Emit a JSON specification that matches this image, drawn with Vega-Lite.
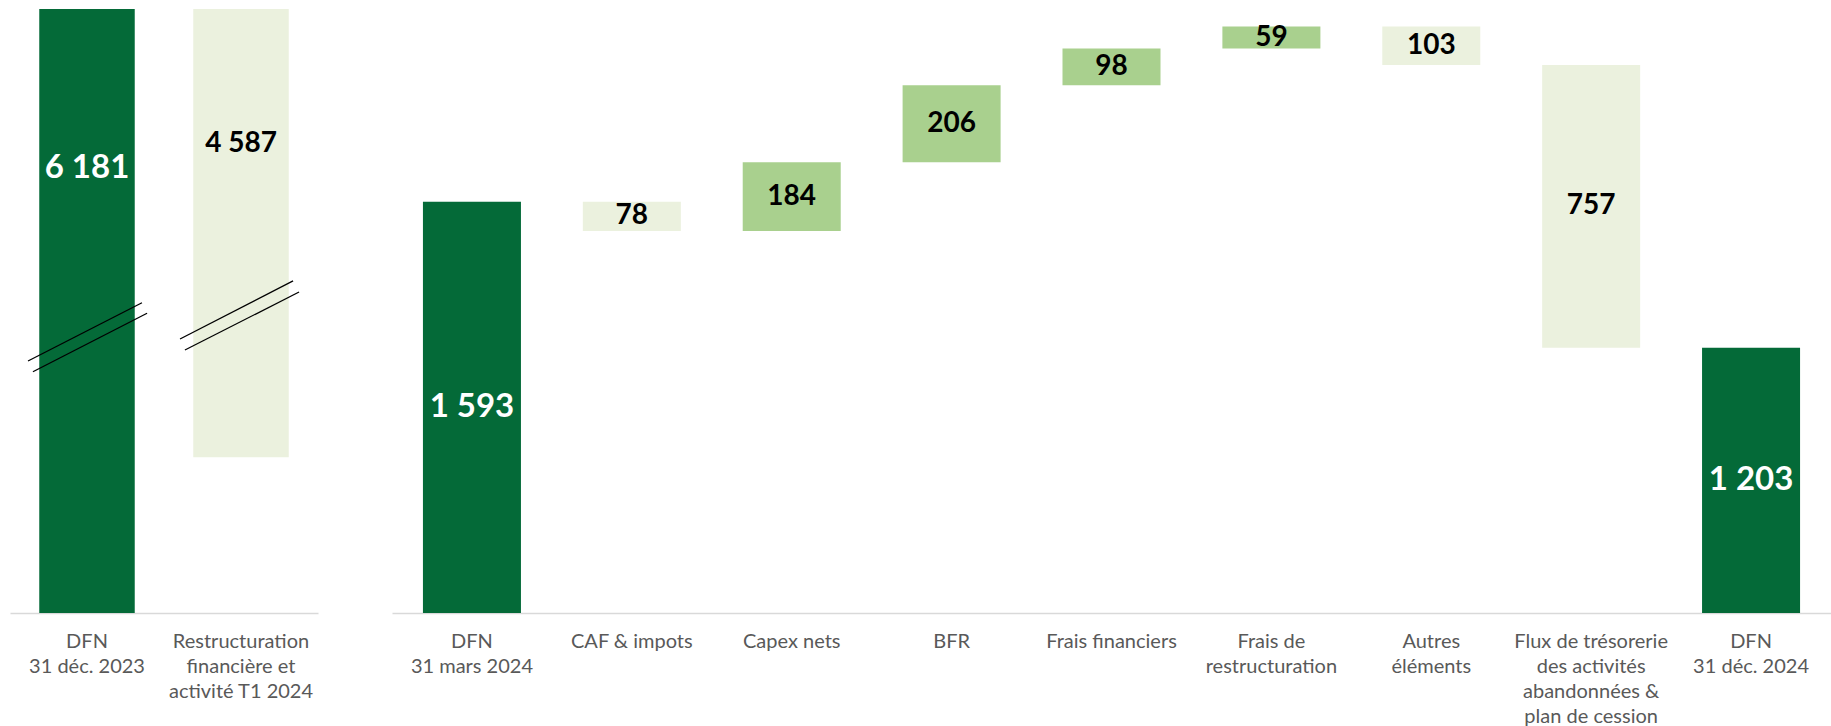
{
  "$schema": "https://vega.github.io/schema/vega-lite/v6.json",
  "padding": {"left": 10, "top": 9, "right": 0, "bottom": 0},
  "bounds": "flush",
  "spacing": 74,
  "background": "white",
  "config": {
    "view": {"stroke": null},
    "axis": {
      "domainColor": "#D9D9D9",
      "domainWidth": 1.5,
      "ticks": false,
      "grid": false,
      "labelAngle": 0,
      "labelFont": "Lato",
      "labelFontSize": 20,
      "labelColor": "#595959",
      "labelLineHeight": 25,
      "labelBaseline": "alphabetic",
      "labelPadding": 34,
      "title": null
    },
    "text": {"font": "Lato", "fontWeight": "bold", "baseline": "middle", "align": "center"}
  },
  "datasets": {
    "left": [
      {"cat": "DFN\n31 déc. 2023", "start": 0, "end": 6181, "label": "6 181", "kind": "total"},
      {"cat": "Restructuration\nfinancière et\nactivité T1 2024", "start": 1594, "end": 6181, "label": "4 587", "kind": "decrease"}
    ],
    "breaks": [
      {"bx": 0.117, "by": 2579, "bx2": 0.857, "by2": 3175},
      {"bx": 0.149, "by": 2469, "bx2": 0.890, "by2": 3067},
      {"bx": 1.104, "by": 2804, "bx2": 1.838, "by2": 3398},
      {"bx": 1.136, "by": 2691, "bx2": 1.877, "by2": 3285}
    ],
    "right": [
      {"cat": "DFN\n31 mars 2024", "start": 0, "end": 1593, "label": "1 593", "kind": "total"},
      {"cat": "CAF & impots", "start": 1593, "end": 1515, "label": "78", "kind": "decrease"},
      {"cat": "Capex nets", "start": 1515, "end": 1699, "label": "184", "kind": "increase"},
      {"cat": "BFR", "start": 1699, "end": 1905, "label": "206", "kind": "increase"},
      {"cat": "Frais financiers", "start": 1905, "end": 2003, "label": "98", "kind": "increase"},
      {"cat": "Frais de\nrestructuration", "start": 2003, "end": 2062, "label": "59", "kind": "increase"},
      {"cat": "Autres\néléments", "start": 2062, "end": 1959, "label": "103", "kind": "decrease"},
      {"cat": "Flux de trésorerie\ndes activités\nabandonnées &\nplan de cession", "start": 1959, "end": 1203, "label": "757", "kind": "decrease"},
      {"cat": "DFN\n31 déc. 2024", "start": 0, "end": 1203, "label": "1 203", "kind": "total"}
    ]
  },
  "hconcat": [
    {
      "width": 308,
      "height": 604,
      "layer": [
        {
          "data": {"name": "left"},
          "layer": [
            {
              "mark": {"type": "bar", "clip": true},
              "encoding": {
                "x": {"field": "cat", "type": "nominal", "sort": null,
                      "scale": {"paddingInner": 0.38, "paddingOuter": 0.19},
                      "axis": {"labelExpr": "split(datum.value, '\\n')"}},
                "y": {"field": "start", "type": "quantitative", "scale": {"domain": [0, 6181], "nice": false, "zero": false}, "axis": null},
                "y2": {"field": "end"},
                "color": {"field": "kind", "type": "nominal", "legend": null,
                          "scale": {"domain": ["total", "increase", "decrease"], "range": ["#046A38", "#A9D08E", "#EBF1DE"]}}
              }
            },
            {
              "transform": [{"filter": "datum.kind === 'total'"}],
              "mark": {"type": "text", "fontSize": 33, "color": "white"},
              "encoding": {
                "x": {"field": "cat", "type": "nominal", "sort": null},
                "y": {"datum": 4555, "type": "quantitative"},
                "text": {"field": "label"}
              }
            },
            {
              "transform": [{"filter": "datum.kind !== 'total'"}],
              "mark": {"type": "text", "fontSize": 28, "color": "black"},
              "encoding": {
                "x": {"field": "cat", "type": "nominal", "sort": null},
                "y": {"datum": 4795, "type": "quantitative"},
                "text": {"field": "label"}
              }
            }
          ]
        },
        {
          "data": {"name": "breaks"},
          "mark": {"type": "rule", "color": "black", "strokeWidth": 1.3},
          "encoding": {
            "x": {"field": "bx", "type": "quantitative", "scale": {"domain": [0, 2], "nice": false, "zero": false}, "axis": null},
            "x2": {"field": "bx2"},
            "y": {"field": "by", "type": "quantitative"},
            "y2": {"field": "by2"}
          }
        }
      ],
      "resolve": {"scale": {"x": "independent"}, "axis": {"x": "independent"}}
    },
    {
      "width": 1439,
      "height": 604,
      "data": {"name": "right"},
      "layer": [
        {
          "mark": {"type": "bar", "clip": true},
          "encoding": {
            "x": {"field": "cat", "type": "nominal", "sort": null,
                  "scale": {"paddingInner": 0.387, "paddingOuter": 0.1935},
                  "axis": {"labelExpr": "split(datum.value, '\\n')"}},
            "y": {"field": "start", "type": "quantitative", "scale": {"domain": [493, 2109], "nice": false, "zero": false}, "axis": null},
            "y2": {"field": "end"},
            "color": {"field": "kind", "type": "nominal", "legend": null,
                      "scale": {"domain": ["total", "increase", "decrease"], "range": ["#046A38", "#A9D08E", "#EBF1DE"]}}
          }
        },
        {
          "transform": [
            {"filter": "datum.kind !== 'total'"},
            {"fold": ["start", "end"], "as": ["edge", "v"]},
            {"aggregate": [{"op": "mean", "field": "v", "as": "mid"}], "groupby": ["cat", "label", "kind"]}
          ],
          "mark": {"type": "text", "fontSize": 28, "color": "black"},
          "encoding": {
            "x": {"field": "cat", "type": "nominal", "sort": null},
            "y": {"field": "mid", "type": "quantitative"},
            "text": {"field": "label"}
          }
        },
        {
          "transform": [{"filter": "datum.label === '1 593'"}],
          "mark": {"type": "text", "fontSize": 33, "color": "white"},
          "encoding": {
            "x": {"field": "cat", "type": "nominal", "sort": null},
            "y": {"datum": 1043, "type": "quantitative"},
            "text": {"field": "label"}
          }
        },
        {
          "transform": [{"filter": "datum.label === '1 203'"}],
          "mark": {"type": "text", "fontSize": 33, "color": "white"},
          "encoding": {
            "x": {"field": "cat", "type": "nominal", "sort": null},
            "y": {"datum": 850, "type": "quantitative"},
            "text": {"field": "label"}
          }
        }
      ]
    }
  ]
}
